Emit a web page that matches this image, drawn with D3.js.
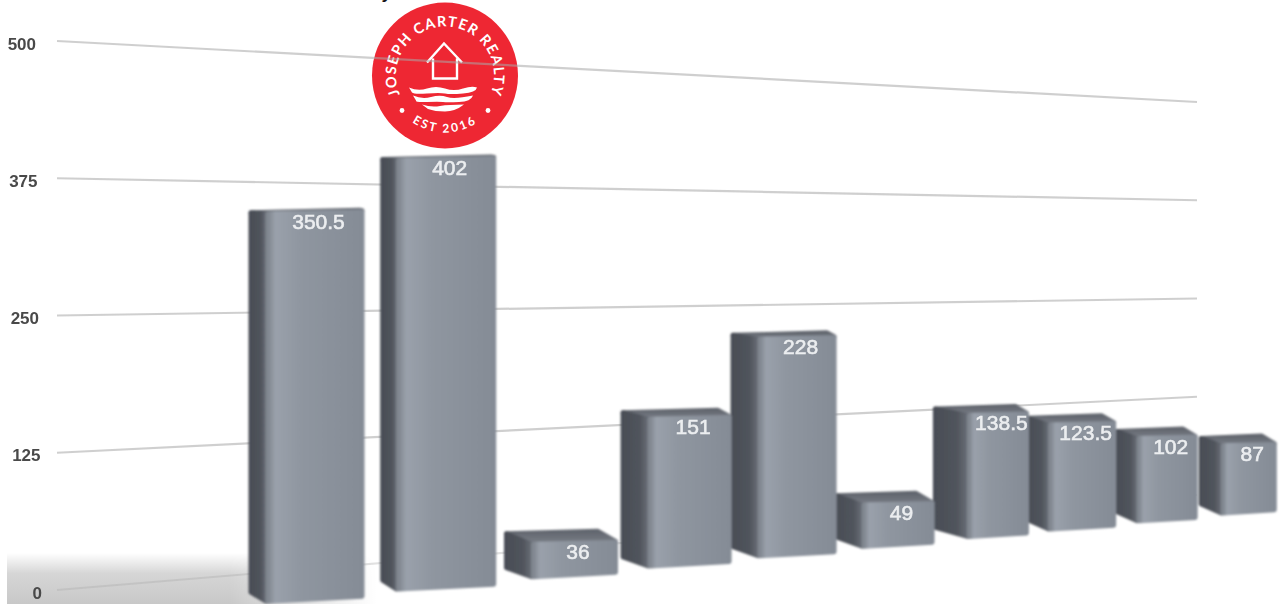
<!DOCTYPE html>
<html>
<head>
<meta charset="utf-8">
<script src="https://cdn.jsdelivr.net/npm/d3@7"></script>
<style>
  html, body { margin: 0; padding: 0; background: #fff; overflow: hidden; }
  text { font-family: "Liberation Sans", Arial, sans-serif; }
</style>
</head>
<body>
<div id="chart"></div>
<script>
var values = [350.5, 402, 36, 151, 228, 49, 138.5, 123.5, 102, 87];
var tickValues = [0, 125, 250, 375, 500];

var width = 1282, height = 604;

var svg = d3.select('#chart').append('svg')
  .attr('width', width)
  .attr('height', height);

var defs = svg.append('defs');

// Perspective: bars get closer together going right
function xPos(i) {
  return 248 + 135.9 * i / (1 + 0.0319 * i);
}
var barWidth = d3.scaleLinear().domain([0, 1, 2, 3, 4, 5, 6, 7, 8, 9]).range([117, 117, 115, 112, 107, 101, 97, 91, 84, 79]);
var sideWidth = d3.scaleLinear().domain([0, 1, 2, 5, 6, 7, 9]).range([20, 19, 30, 30, 37, 25, 25]);
var floorY = d3.scaleLinear().domain([270, 1223]).range([603, 515]);
var unit = d3.scaleLinear().domain([306, 1237]).range([1.12, 0.83]);

// Back wall grid, left and right ends
var gridLeft = d3.scaleLinear().domain([0, 500]).range([590, 41]);
var gridRight = d3.scaleLinear().domain([0, 500]).range([495, 102]);
var labelX = d3.scaleLinear().domain([0, 500]).range([42, 36]);

function addGradient(id, x2, y2, stops) {
  var g = defs.append('linearGradient')
    .attr('id', id)
    .attr('x1', 0).attr('y1', 0)
    .attr('x2', x2).attr('y2', y2);
  stops.forEach(function (s) {
    g.append('stop').attr('offset', s[0]).attr('stop-color', s[1]);
  });
}

addGradient('front', 1, 0, [[0, '#80868f'], [0.08, '#9aa1ab'], [0.35, '#8f96a0'], [1, '#858c96']]);
addGradient('side', 1, 0, [[0, '#4a4e56'], [0.65, '#50545c'], [1, '#686d76']]);
addGradient('top', 0, 1, [[0, '#62666e'], [1, '#787d86']]);
addGradient('shadowV', 0, 1, [[0, '#ffffff'], [0.4, '#d6d6d6'], [1, '#c8c8c8']]);
addGradient('shadowH', 1, 0, [[0, '#ffffff'], [0.6, '#ffffff'], [1, '#000000']]);

defs.append('mask').attr('id', 'shadowMask')
  .attr('maskUnits', 'userSpaceOnUse')
  .attr('x', 0).attr('y', 540).attr('width', 400).attr('height', 64)
  .append('rect')
  .attr('x', 7).attr('y', 553).attr('width', 370).attr('height', 51)
  .attr('fill', 'url(#shadowH)');

defs.append('filter').attr('id', 'soft')
  .append('feGaussianBlur').attr('stdDeviation', 1);
defs.append('filter').attr('id', 'softer')
  .append('feGaussianBlur').attr('stdDeviation', 0.5);

// Shadow on the floor, bottom left
svg.append('rect')
  .attr('x', 7).attr('y', 553).attr('width', 370).attr('height', 51)
  .attr('fill', 'url(#shadowV)')
  .attr('mask', 'url(#shadowMask)');

// Logo sits behind the grid lines
var logo = svg.append('g').attr('transform', 'translate(445,75.5)');

logo.append('circle').attr('r', 73).attr('fill', '#ee2733');

defs.append('path').attr('id', 'ringTop')
  .attr('d', 'M 0 49 A 49 49 0 1 1 0 -49 A 49 49 0 1 1 0 49');
defs.append('path').attr('id', 'ringBottom')
  .attr('d', 'M -57 0 A 57 57 0 0 0 57 0');

logo.append('text')
  .attr('fill', '#fff')
  .style('font-family', 'Lato, sans-serif')
  .style('font-size', '14.5px')
  .style('font-weight', 700)
  .style('letter-spacing', '1.2px')
  .append('textPath')
  .attr('href', '#ringTop')
  .attr('startOffset', '50%')
  .attr('text-anchor', 'middle')
  .text('JOSEPH CARTER REALTY');

logo.append('text')
  .attr('fill', '#fff')
  .style('font-family', 'Lato, sans-serif')
  .style('font-size', '12px')
  .style('font-weight', 700)
  .style('letter-spacing', '2.4px')
  .append('textPath')
  .attr('href', '#ringBottom')
  .attr('startOffset', '50%')
  .attr('text-anchor', 'middle')
  .text('EST 2016');

logo.selectAll('circle.dot')
  .data([-1, 1])
  .enter()
  .append('circle')
  .attr('class', 'dot')
  .attr('cx', function (d) { return d * 43; })
  .attr('cy', 35)
  .attr('r', 2.4)
  .attr('fill', '#fff');

// House
logo.append('path')
  .attr('d', 'M -18 -13 L -1 -32 L 17 -13 M -12 -17 L -12 3 L 12 3 L 12 -17')
  .attr('fill', 'none')
  .attr('stroke', '#fff')
  .attr('stroke-width', 2.4);

// Waves
var wavePaths = [
  'M -36 12 Q -27 16 -18 13 T 0 13 T 18 13 T 32 12 Q 31 17 18 18 T 0 18 T -18 18 T -33 17 Z',
  'M -32 20 Q -23 24 -14 21.5 T 2 21.5 T 28 20 Q 26 26 14 26.5 T -2 26.5 T -18 26.5 T -29 25 Z',
  'M -23 29 Q -14 32 -5 30.5 T 19 29 Q 10 36 0 36 T -17 33.5 Z'
];
logo.selectAll('path.wave')
  .data(wavePaths)
  .enter()
  .append('path')
  .attr('class', 'wave')
  .attr('d', function (d) { return d; })
  .attr('fill', '#fff');

// Grid lines
svg.selectAll('line.grid')
  .data(tickValues)
  .enter()
  .append('line')
  .attr('class', 'grid')
  .attr('x1', 57)
  .attr('x2', 1197)
  .attr('y1', function (d) { return gridLeft(d); })
  .attr('y2', function (d) { return gridRight(d); })
  .attr('stroke', '#a8a8a8')
  .attr('stroke-opacity', function (d) { return d === 0 ? 0.35 : 0.55; })
  .attr('stroke-width', 2.2)
  .attr('filter', 'url(#softer)');

// Tick labels
svg.selectAll('text.tick')
  .data(tickValues)
  .enter()
  .append('text')
  .attr('class', 'tick')
  .attr('x', function (d) { return labelX(d); })
  .attr('y', function (d) { return gridLeft(d) + 8.5; })
  .attr('text-anchor', 'end')
  .attr('fill', '#4a4a4a')
  .attr('filter', 'url(#softer)')
  .style('font-size', '17px')
  .style('font-weight', 700)
  .text(function (d) { return d; });

// Leftover descender of the cropped title
svg.append('text')
  .attr('x', 383)
  .attr('y', -1)
  .attr('fill', '#111')
  .style('font-size', '17px')
  .style('font-weight', 700)
  .style('font-style', 'italic')
  .text('y');

// Work out the geometry of each bar
var bars = values.map(function (v, i) {
  var left = xPos(i);
  var w = barWidth(i);
  var frontLeft = left + sideWidth(i);
  var right = left + w;
  var bottom = floorY(frontLeft);
  var frontTop = bottom - v * unit(left + w / 2);
  var depth = Math.max(3, (frontTop - 150) * 0.032);
  return {
    value: v,
    left: left,
    right: right,
    frontLeft: frontLeft,
    bottom: bottom,
    bottomRight: bottom - (right - frontLeft) * 0.04,
    frontTop: frontTop,
    frontTopRight: frontTop - (right - frontLeft) * 0.02,
    backTop: frontTop - depth,
    inset: depth * 1.6
  };
});

function poly(points) {
  return 'M' + points.map(function (p) { return p.join(','); }).join('L') + 'Z';
}

// Draw right to left, nearer bars cover the ones behind
var barGroup = svg.append('g').attr('filter', 'url(#soft)');

var bar = barGroup.selectAll('g.bar')
  .data(bars.slice().reverse())
  .enter()
  .append('g')
  .attr('class', 'bar');

function addFace(fill, points) {
  bar.append('path')
    .attr('d', function (d) { return poly(points(d)); })
    .attr('fill', 'url(#' + fill + ')')
    .attr('stroke', 'url(#' + fill + ')')
    .attr('stroke-width', 5)
    .attr('stroke-linejoin', 'round');
}

// Faces are inset by half the stroke so the round corners land on the edges
addFace('top', function (d) {
  return [[d.left + 3, d.backTop + 5], [d.right - d.inset - 1, d.backTop + 2.5], [d.right - 3, d.frontTopRight + 2], [d.frontLeft, d.frontTop + 2]];
});
addFace('side', function (d) {
  return [[d.left + 3, d.backTop + 5], [d.frontLeft - 2, d.frontTop + 3], [d.frontLeft - 2, d.bottom - 2], [d.left + 3, d.bottom - 11]];
});
addFace('front', function (d) {
  return [[d.frontLeft, d.frontTop + 3], [d.right - 3, d.frontTopRight + 3], [d.right - 3, d.bottomRight - 3], [d.frontLeft, d.bottom - 2]];
});

// Value labels
svg.selectAll('text.value')
  .data(bars)
  .enter()
  .append('text')
  .attr('class', 'value')
  .attr('x', function (d) { return (d.frontLeft + d.right) / 2 + 2; })
  .attr('y', function (d) { return d.frontTop + 18; })
  .attr('text-anchor', 'middle')
  .attr('fill', '#eceef0')
  .attr('stroke', '#eceef0')
  .attr('stroke-width', 0.6)
  .attr('filter', 'url(#softer)')
  .style('font-size', '21px')
  .text(function (d) { return d.value; });
</script>
</body>
</html>
